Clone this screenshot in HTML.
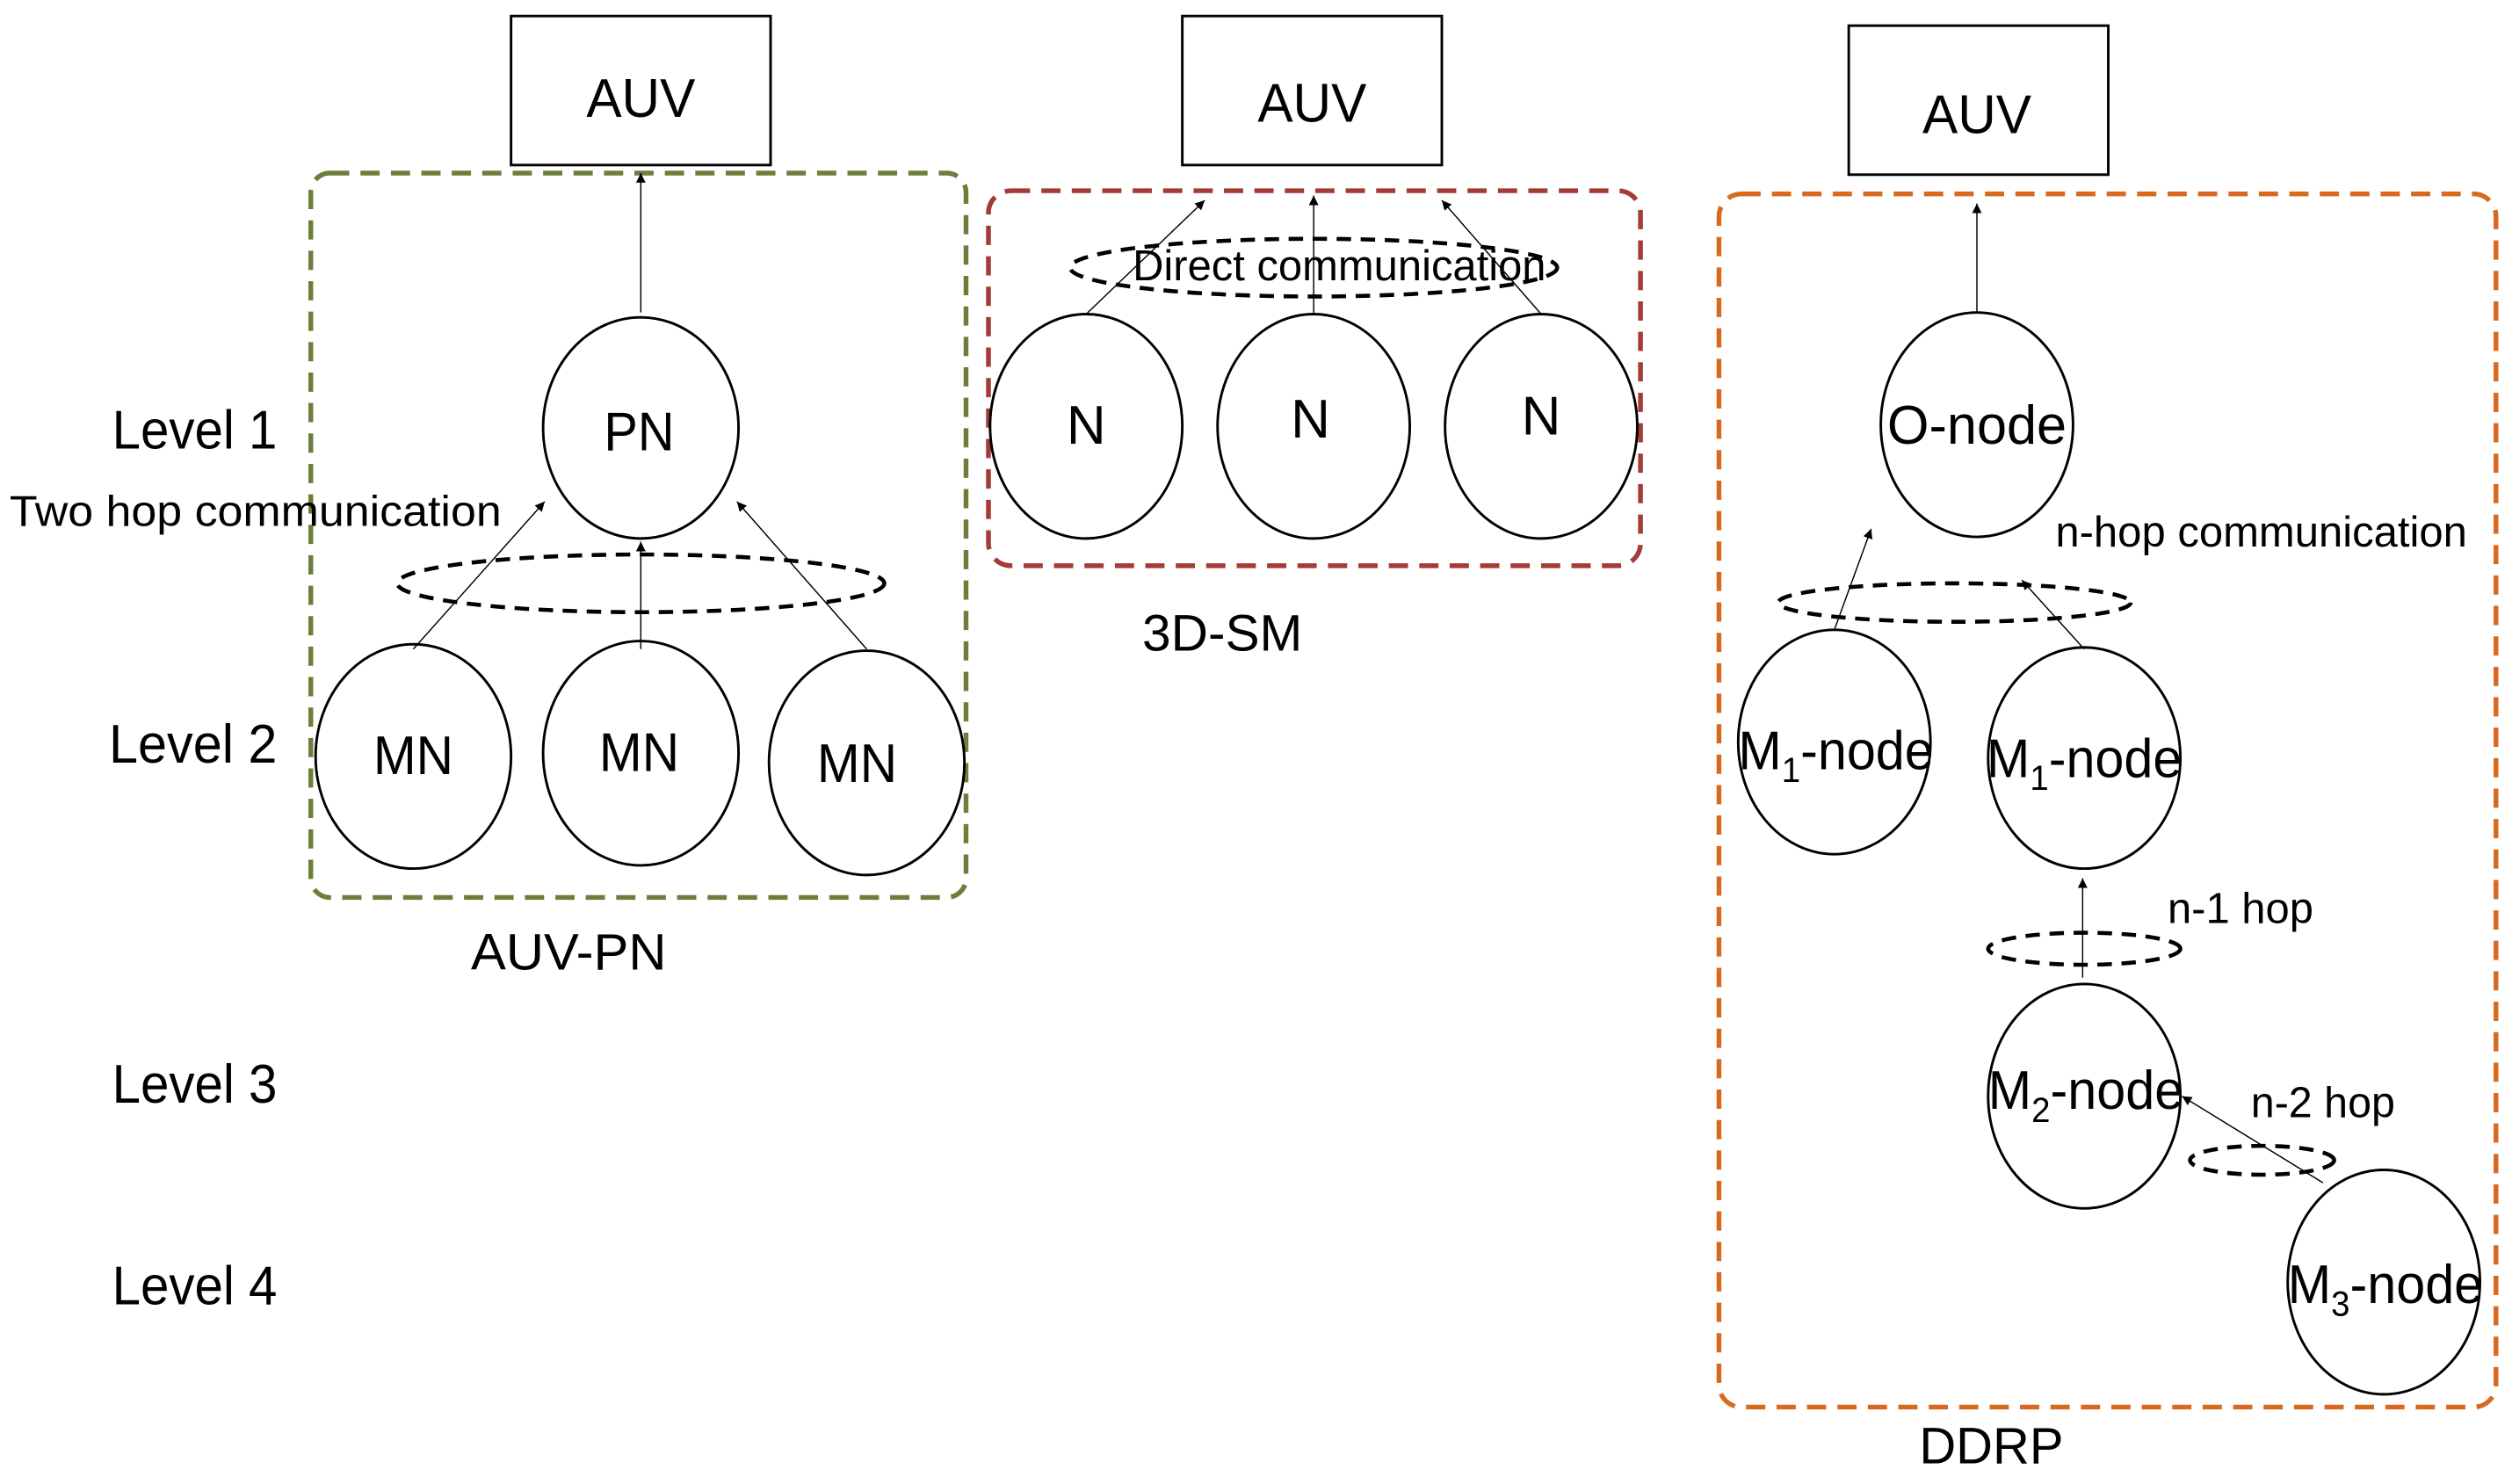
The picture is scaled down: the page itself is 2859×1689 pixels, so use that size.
<!DOCTYPE html>
<html><head><meta charset="utf-8"><style>html,body{margin:0;padding:0;background:#fff}svg{display:block}</style></head>
<body>
<svg width="2859" height="1689" viewBox="0 0 1568 926" preserveAspectRatio="none" xmlns="http://www.w3.org/2000/svg" font-family="Liberation Sans, sans-serif">
<defs>
<marker id="a" viewBox="0 0 10 10" refX="10" refY="5" markerWidth="6" markerHeight="6" markerUnits="userSpaceOnUse" orient="auto"><path d="M0,0 L10,5 L0,10 z" fill="#000"/></marker>
</defs>
<g fill="none" stroke-width="3" stroke-dasharray="12,7">
<rect x="194" y="108" width="409" height="452" rx="12" stroke="#6b7f3a"/>
<rect x="617" y="119" width="407" height="234" rx="14" stroke="#a33b36"/>
<rect x="1073" y="121" width="485" height="757" rx="14" stroke="#d9691f"/>
</g>
<g fill="#fff" stroke="#000" stroke-width="1.6">
<rect x="319" y="10" width="162" height="93"/>
<rect x="738" y="10" width="162" height="93"/>
<rect x="1154" y="16" width="162" height="93"/>
<ellipse cx="400" cy="267" rx="61" ry="69"/>
<ellipse cx="258" cy="472" rx="61" ry="70"/>
<ellipse cx="400" cy="470" rx="61" ry="70"/>
<ellipse cx="541" cy="476" rx="61" ry="70"/>
<ellipse cx="678" cy="266" rx="60" ry="70"/>
<ellipse cx="820" cy="266" rx="60" ry="70"/>
<ellipse cx="962" cy="266" rx="60" ry="70"/>
<ellipse cx="1234" cy="265" rx="60" ry="70"/>
<ellipse cx="1145" cy="463" rx="60" ry="70"/>
<ellipse cx="1301" cy="473" rx="60" ry="69"/>
<ellipse cx="1301" cy="684" rx="60" ry="70"/>
<ellipse cx="1488" cy="800" rx="60" ry="70"/>
</g>
<g fill="none" stroke="#000" stroke-width="2.5" stroke-dasharray="9,6">
<ellipse cx="400" cy="364" rx="152" ry="18"/>
<ellipse cx="820" cy="167" rx="152" ry="18"/>
<ellipse cx="1220" cy="376" rx="110" ry="12"/>
<ellipse cx="1301" cy="592" rx="60" ry="10"/>
<ellipse cx="1412" cy="724" rx="45" ry="9"/>
</g>
<g stroke="#000" stroke-width="0.8" marker-end="url(#a)">
<line x1="400" y1="195" x2="400" y2="108"/>
<line x1="258" y1="405" x2="340" y2="313"/>
<line x1="400" y1="405" x2="400" y2="338"/>
<line x1="541" y1="405" x2="460" y2="313"/>
<line x1="678" y1="196" x2="752" y2="125"/>
<line x1="820" y1="196" x2="820" y2="122"/>
<line x1="962" y1="196" x2="900" y2="125"/>
<line x1="1234" y1="195" x2="1234" y2="127"/>
<line x1="1145" y1="393" x2="1168" y2="330"/>
<line x1="1301" y1="405" x2="1262" y2="362"/>
<line x1="1300" y1="610" x2="1300" y2="548"/>
<line x1="1450" y1="738" x2="1362" y2="684"/>
</g>
<g fill="#000" font-size="34">
<text x="70" y="280" textLength="103" lengthAdjust="spacingAndGlyphs">Level 1</text>
<text x="68" y="476" textLength="105" lengthAdjust="spacingAndGlyphs">Level 2</text>
<text x="70" y="688" textLength="103" lengthAdjust="spacingAndGlyphs">Level 3</text>
<text x="70" y="814" textLength="103" lengthAdjust="spacingAndGlyphs">Level 4</text>
<text x="6" y="328" font-size="27" textLength="307" lengthAdjust="spacingAndGlyphs">Two hop communication</text>
<text x="707" y="175" font-size="27" textLength="258" lengthAdjust="spacingAndGlyphs">Direct communication</text>
<text x="1283" y="341" font-size="27" textLength="257" lengthAdjust="spacingAndGlyphs">n-hop communication</text>
<text x="1353" y="576" font-size="27" textLength="91" lengthAdjust="spacingAndGlyphs">n-1 hop</text>
<text x="1405" y="697" font-size="27" textLength="90" lengthAdjust="spacingAndGlyphs">n-2 hop</text>
<g text-anchor="middle">
<text x="400" y="73" textLength="68" lengthAdjust="spacingAndGlyphs">AUV</text>
<text x="819" y="76" textLength="68" lengthAdjust="spacingAndGlyphs">AUV</text>
<text x="1234" y="83" textLength="68" lengthAdjust="spacingAndGlyphs">AUV</text>
<text x="399" y="281" textLength="44" lengthAdjust="spacingAndGlyphs">PN</text>
<text x="258" y="483" textLength="50" lengthAdjust="spacingAndGlyphs">MN</text>
<text x="399" y="481" textLength="50" lengthAdjust="spacingAndGlyphs">MN</text>
<text x="535" y="488" textLength="50" lengthAdjust="spacingAndGlyphs">MN</text>
<text x="678" y="277">N</text>
<text x="818" y="273">N</text>
<text x="962" y="271">N</text>
<text x="355" y="605" font-size="32" textLength="122" lengthAdjust="spacingAndGlyphs">AUV-PN</text>
<text x="763" y="406" font-size="32" textLength="100" lengthAdjust="spacingAndGlyphs">3D-SM</text>
<text x="1243" y="913" font-size="32" textLength="90" lengthAdjust="spacingAndGlyphs">DDRP</text>
<text x="1234" y="277" textLength="112" lengthAdjust="spacingAndGlyphs">O-node</text>
<text x="1146" y="480" textLength="122" lengthAdjust="spacingAndGlyphs">M<tspan font-size="22" dy="8">1</tspan><tspan dy="-8">-node</tspan></text>
<text x="1301" y="485" textLength="122" lengthAdjust="spacingAndGlyphs">M<tspan font-size="22" dy="8">1</tspan><tspan dy="-8">-node</tspan></text>
<text x="1302" y="692" textLength="122" lengthAdjust="spacingAndGlyphs">M<tspan font-size="22" dy="8">2</tspan><tspan dy="-8">-node</tspan></text>
<text x="1489" y="813" textLength="122" lengthAdjust="spacingAndGlyphs">M<tspan font-size="22" dy="8">3</tspan><tspan dy="-8">-node</tspan></text>
</g>
</g>
</svg>
</body></html>
